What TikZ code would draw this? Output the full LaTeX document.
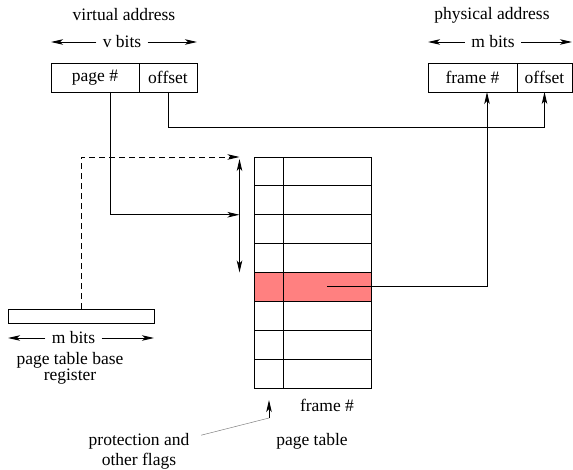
\documentclass[tikz,border=0pt]{standalone}
\usepackage{fontspec}
\setmainfont{Liberation Serif}
\usepackage{xcolor}
\usetikzlibrary{arrows.meta,positioning}
\definecolor{rowred}{RGB}{255,128,128}

\begin{document}
\begin{tikzpicture} [>={Stealth[length=12pt,width=5.5pt,inset=3pt]},x=1pt,y=-1pt,line width=0.9pt]
  \tikzstyle{every node}=[font=\fontsize{17.5}{15}\selectfont]
  \tikzstyle{field}=[draw,rectangle,inner sep=0pt,outer sep=0pt,minimum height=29pt]
  \tikzstyle{flagcell}=[draw,rectangle,inner sep=0pt,outer sep=0pt,minimum width=29pt,minimum height=28.875pt]
  \tikzstyle{framecell}=[flagcell,minimum width=87.5pt]
  \tikzstyle{bits}=[inner sep=6pt]
  \useasboundingbox (0,0) rectangle (573,470);

  % virtual address
  \node[field,minimum width=88pt] (page) at (95,77.5) {page \#};
  \node[field,minimum width=58pt] (voff) [right=0pt of page] {offset};
  \node[bits] (vbits) at (122,42) {v bits};
  \node (vaddr) at (124,15) {virtual address};
  \draw[->] (vbits.west) -- (vbits.west -| page.west);
  \draw[->] (vbits.east) -- (vbits.east -| voff.east);

  % physical address
  \node[field,minimum width=89pt] (frame) at (472.5,77.5) {frame \#};
  \node[field,minimum width=55pt] (poff) [right=0pt of frame] {offset};
  \node[bits] (pbits) at (493,42) {m bits};
  \node (paddr) at (492,15) {physical address};
  \draw[->] (pbits.west) -- (pbits.west -| frame.west);
  \draw[->] (pbits.east) -- (pbits.east -| poff.east);

  % page table
  \foreach \i in {1,...,8} {
    \node[flagcell] (f\i) at (269,{142.5625+28.875*\i}) {};
    \node[framecell] (e\i) [right=0pt of f\i] {};
  }
  \node[flagcell,fill=rowred] at (f5) {};
  \node[framecell,fill=rowred] at (e5) {};
  \node (fnum) at (327,405) {frame \#};
  \node (ptab) at (312,441) {page table};

  % page table base register
  \node[draw,rectangle,inner sep=0pt,outer sep=0pt,minimum width=146pt,minimum height=14pt] (ptbr) at (81,316) {};
  \node[bits] (rbits) at (73.5,338) {m bits};
  \node[align=center] (rlabel) at (70,368) {page table base\\register};
  \draw[->] (rbits.west) -- (rbits.west -| ptbr.west);
  \draw[->] (rbits.east) -- (rbits.east -| ptbr.east);

  % flags
  \node[align=center] (prot) at (139,451) {protection and\\[3pt]other flags};
  \coordinate (bend) at (269,418);

  \draw[->] ([xshift=15pt]page.south) |- ([xshift=-15pt]f3.north west);
  \draw[->,dash pattern=on 6pt off 4pt] (ptbr.north) |- ([xshift=-15pt]f1.north west);
  \draw[<->,shorten <=2pt] ([xshift=-15pt]f1.north west) -- ([xshift=-15pt]f5.north west);
  \draw[->] (voff.south) -- ++(0,35) -| (poff.south);
  \draw[->] (e5.center) -| ([xshift=14.5pt]frame.south);
  \draw[gray,line width=0.5pt] ([xshift=8pt,yshift=-6pt]prot.north east) -- (bend);
  \draw[->] (bend) -- ++(0,-18);
\end{tikzpicture}
\end{document}
